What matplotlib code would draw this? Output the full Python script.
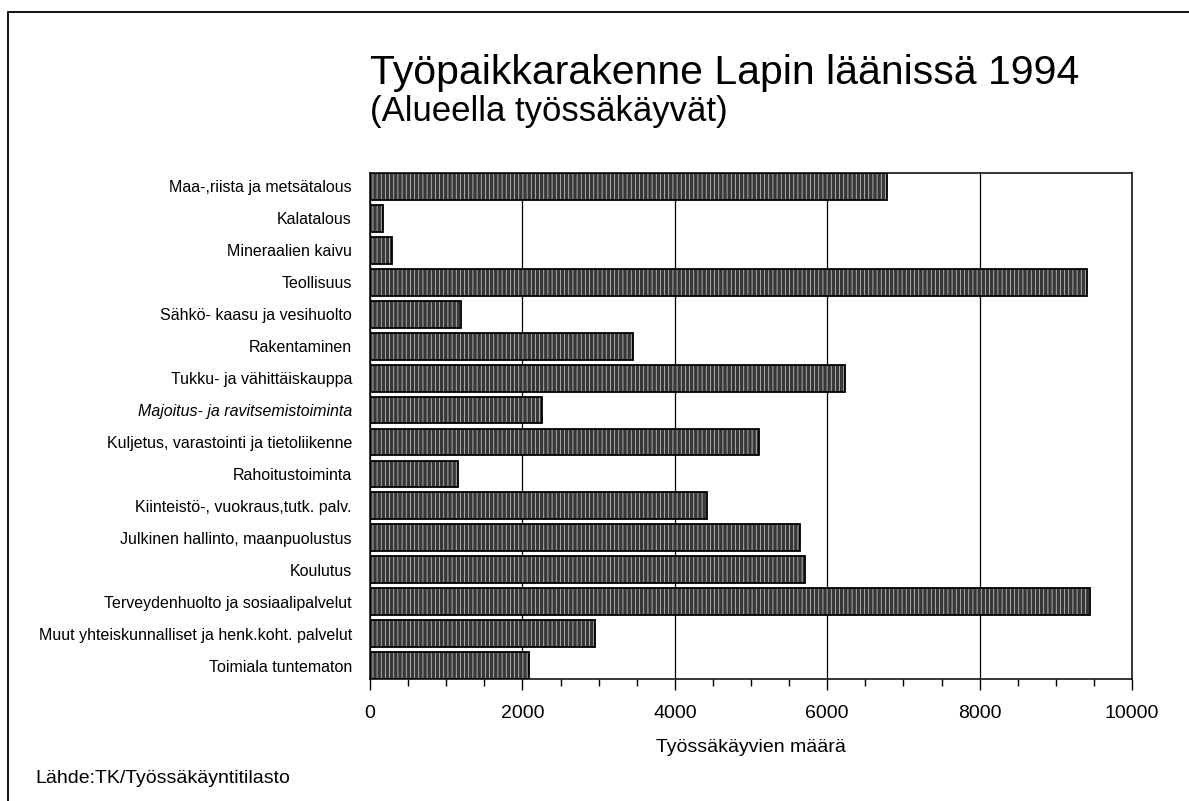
import numpy as np
import matplotlib.pyplot as plt
from matplotlib.patches import Rectangle
from matplotlib.ticker import MultipleLocator

plt.rcParams['font.family'] = ['Liberation Sans', 'DejaVu Sans']
plt.rcParams['hatch.linewidth'] = 0.5

toimialat = [
    "Maa-,riista ja metsätalous",
    "Kalatalous",
    "Mineraalien kaivu",
    "Teollisuus",
    "Sähkö- kaasu ja vesihuolto",
    "Rakentaminen",
    "Tukku- ja vähittäiskauppa",
    "Majoitus- ja ravitsemistoiminta",
    "Kuljetus, varastointi ja tietoliikenne",
    "Rahoitustoiminta",
    "Kiinteistö-, vuokraus,tutk. palv.",
    "Julkinen hallinto, maanpuolustus",
    "Koulutus",
    "Terveydenhuolto ja sosiaalipalvelut",
    "Muut yhteiskunnalliset ja henk.koht. palvelut",
    "Toimiala tuntematon",
]
tyossakayvat = [6785, 165, 295, 9405, 1190, 3445, 6235, 2255,
                5110, 1150, 4420, 5645, 5710, 9450, 2955, 2090]
xtikit = [0, 2000, 4000, 6000, 8000, 10000]

fig = plt.figure(figsize=(11.89, 8.01), dpi=100)
ax = fig.add_axes([0.3112, 0.1523, 0.6409, 0.6317])

y = np.arange(len(toimialat))
# rasteroitu täyttö ja reunaviiva erikseen
ax.barh(y, tyossakayvat, height=0.84, color='#383838', edgecolor='#d8d8d8',
        hatch='||||', linewidth=0, zorder=2)
ax.barh(y, tyossakayvat, height=0.84, color='none', edgecolor='black',
        linewidth=1.3, zorder=3)

ax.set_ylim(len(toimialat) - 0.58, -0.42)
ax.set_xlim(0, 10000)
ax.set_xticks(xtikit)
ax.set_xticklabels([str(v) for v in xtikit], fontsize=14)
ax.xaxis.set_minor_locator(MultipleLocator(500))
ax.tick_params(axis='x', which='major', direction='out', length=8, width=1, pad=11)
ax.tick_params(axis='x', which='minor', direction='out', length=5, width=1)
ax.set_yticks(y)
ax.set_yticklabels(toimialat, fontsize=11.5)
ax.get_yticklabels()[7].set_style('italic')
ax.tick_params(axis='y', length=0, pad=13)
ax.grid(axis='x', which='major', color='black', linewidth=0.9, zorder=1)
ax.set_axisbelow(True)
for s in ax.spines.values():
    s.set_linewidth(1.1)

ax.set_xlabel("Työssäkäyvien määrä", fontsize=14, labelpad=12)

fig.text(0.311, 0.895, "Työpaikkarakenne Lapin läänissä 1994",
         fontsize=29.5, va='baseline', ha='left')
fig.text(0.311, 0.849, "(Alueella työssäkäyvät)",
         fontsize=25, va='baseline', ha='left')
fig.text(0.03, 0.022, "Lähde:TK/Työssäkäyntitilasto",
         fontsize=14, va='baseline', ha='left')

# sivun kehys
fig.patches.append(Rectangle((0.007, -0.05), 1.1, 1.035, transform=fig.transFigure,
                             fill=False, edgecolor='black', linewidth=1.3))

fig.savefig("out.png", dpi=100)
